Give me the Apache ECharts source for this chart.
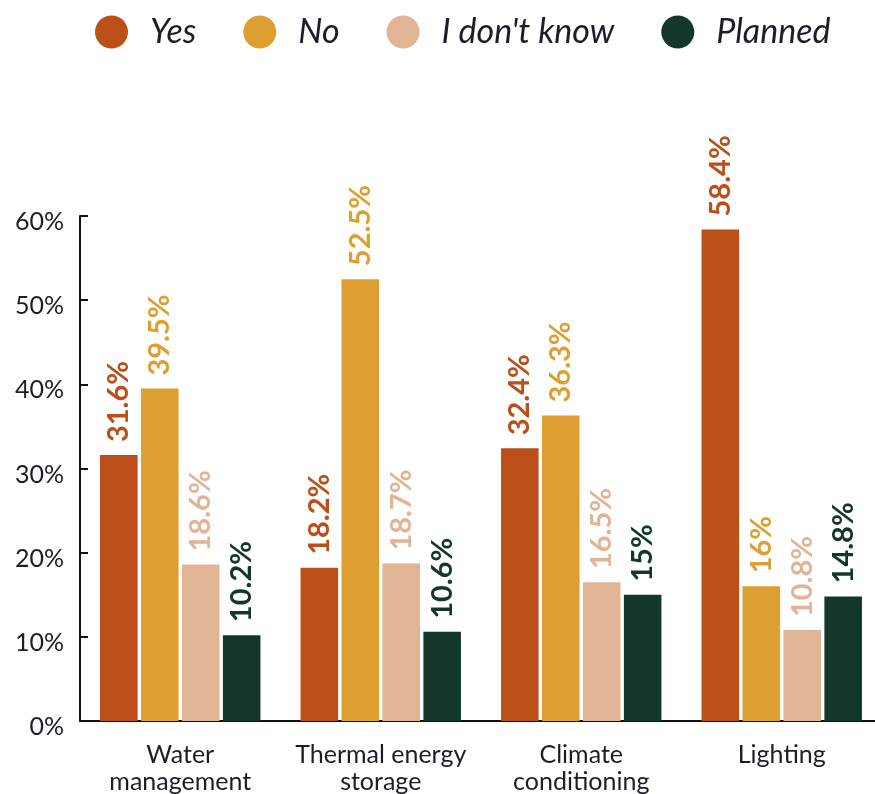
<!DOCTYPE html>
<html>
<head>
<meta charset="utf-8">
<script src="https://cdn.jsdelivr.net/npm/echarts@6/dist/echarts.min.js"></script>
<style>
  html, body { margin: 0; padding: 0; background: #fff; }
  #chart { width: 875px; height: 794px; }
</style>
</head>
<body>
<div id="chart"></div>
<script>
// Share of respondents per application area
const categories = ['Water\nmanagement', 'Thermal energy\nstorage', 'Climate\nconditioning', 'Lighting'];
const seriesNames = ['Yes', 'No', "I don't know", 'Planned'];
const yesValues = [31.6, 18.2, 32.4, 58.4];
const noValues = [39.5, 52.5, 36.3, 16];
const dontKnowValues = [18.6, 18.7, 16.5, 10.8];
const plannedValues = [10.2, 10.6, 15, 14.8];
const yTicks = [0, 10, 20, 30, 40, 50, 60];

const palette = ['#BC4E17', '#DE9F32', '#E2B496', '#13382A'];
const seriesValues = [yesValues, noValues, dontKnowValues, plannedValues];
const font = 'Lato, "Open Sans", sans-serif';

const chart = echarts.init(document.getElementById('chart'));

chart.setOption({
  animation: false,
  color: palette,
  legend: {
    top: 15,
    left: 95,
    padding: 0,
    icon: 'circle',
    itemWidth: 33,
    itemHeight: 33,
    itemGap: 47,
    textStyle: {
      fontFamily: font,
      fontStyle: 'italic',
      fontSize: 34,
      color: '#1c1d2b',
      padding: [0, 0, 0, 17]
    },
    data: seriesNames
  },
  grid: { left: 80, right: -7, top: 216, bottom: 73, outerBoundsMode: 'none' },
  xAxis: {
    type: 'category',
    data: categories,
    axisLine: { lineStyle: { color: '#111', width: 2 } },
    axisTick: { inside: true, length: 10, lineStyle: { color: '#111', width: 2 } },
    axisLabel: {
      interval: 0,
      fontFamily: font,
      fontSize: 25,
      color: '#1c1d2b',
      margin: 20,
      lineHeight: 27
    }
  },
  yAxis: {
    type: 'value',
    min: yTicks[0],
    max: yTicks[yTicks.length - 1],
    interval: 10,
    splitLine: { show: false },
    axisLine: { show: true, lineStyle: { color: '#111', width: 2 } },
    axisTick: { show: true, inside: true, length: 8, lineStyle: { color: '#111', width: 2 } },
    axisLabel: {
      fontFamily: font,
      fontSize: 25,
      color: '#1c1d2b',
      margin: 16,
      verticalAlign: 'top',
      lineHeight: 12,
      formatter: v => v + '%'
    }
  },
  series: seriesNames.map((name, i) => ({
    name,
    type: 'bar',
    data: seriesValues[i],
    barGap: '9%',
    barCategoryGap: '20%',
    itemStyle: { color: palette[i] },
    label: {
      show: true,
      position: 'top',
      rotate: 90,
      align: 'left',
      verticalAlign: 'middle',
      distance: 13,
      fontFamily: font,
      fontWeight: 'bold',
      fontSize: 29,
      color: palette[i],
      formatter: p => p.value + '%'
    }
  }))
});
</script>
</body>
</html>
